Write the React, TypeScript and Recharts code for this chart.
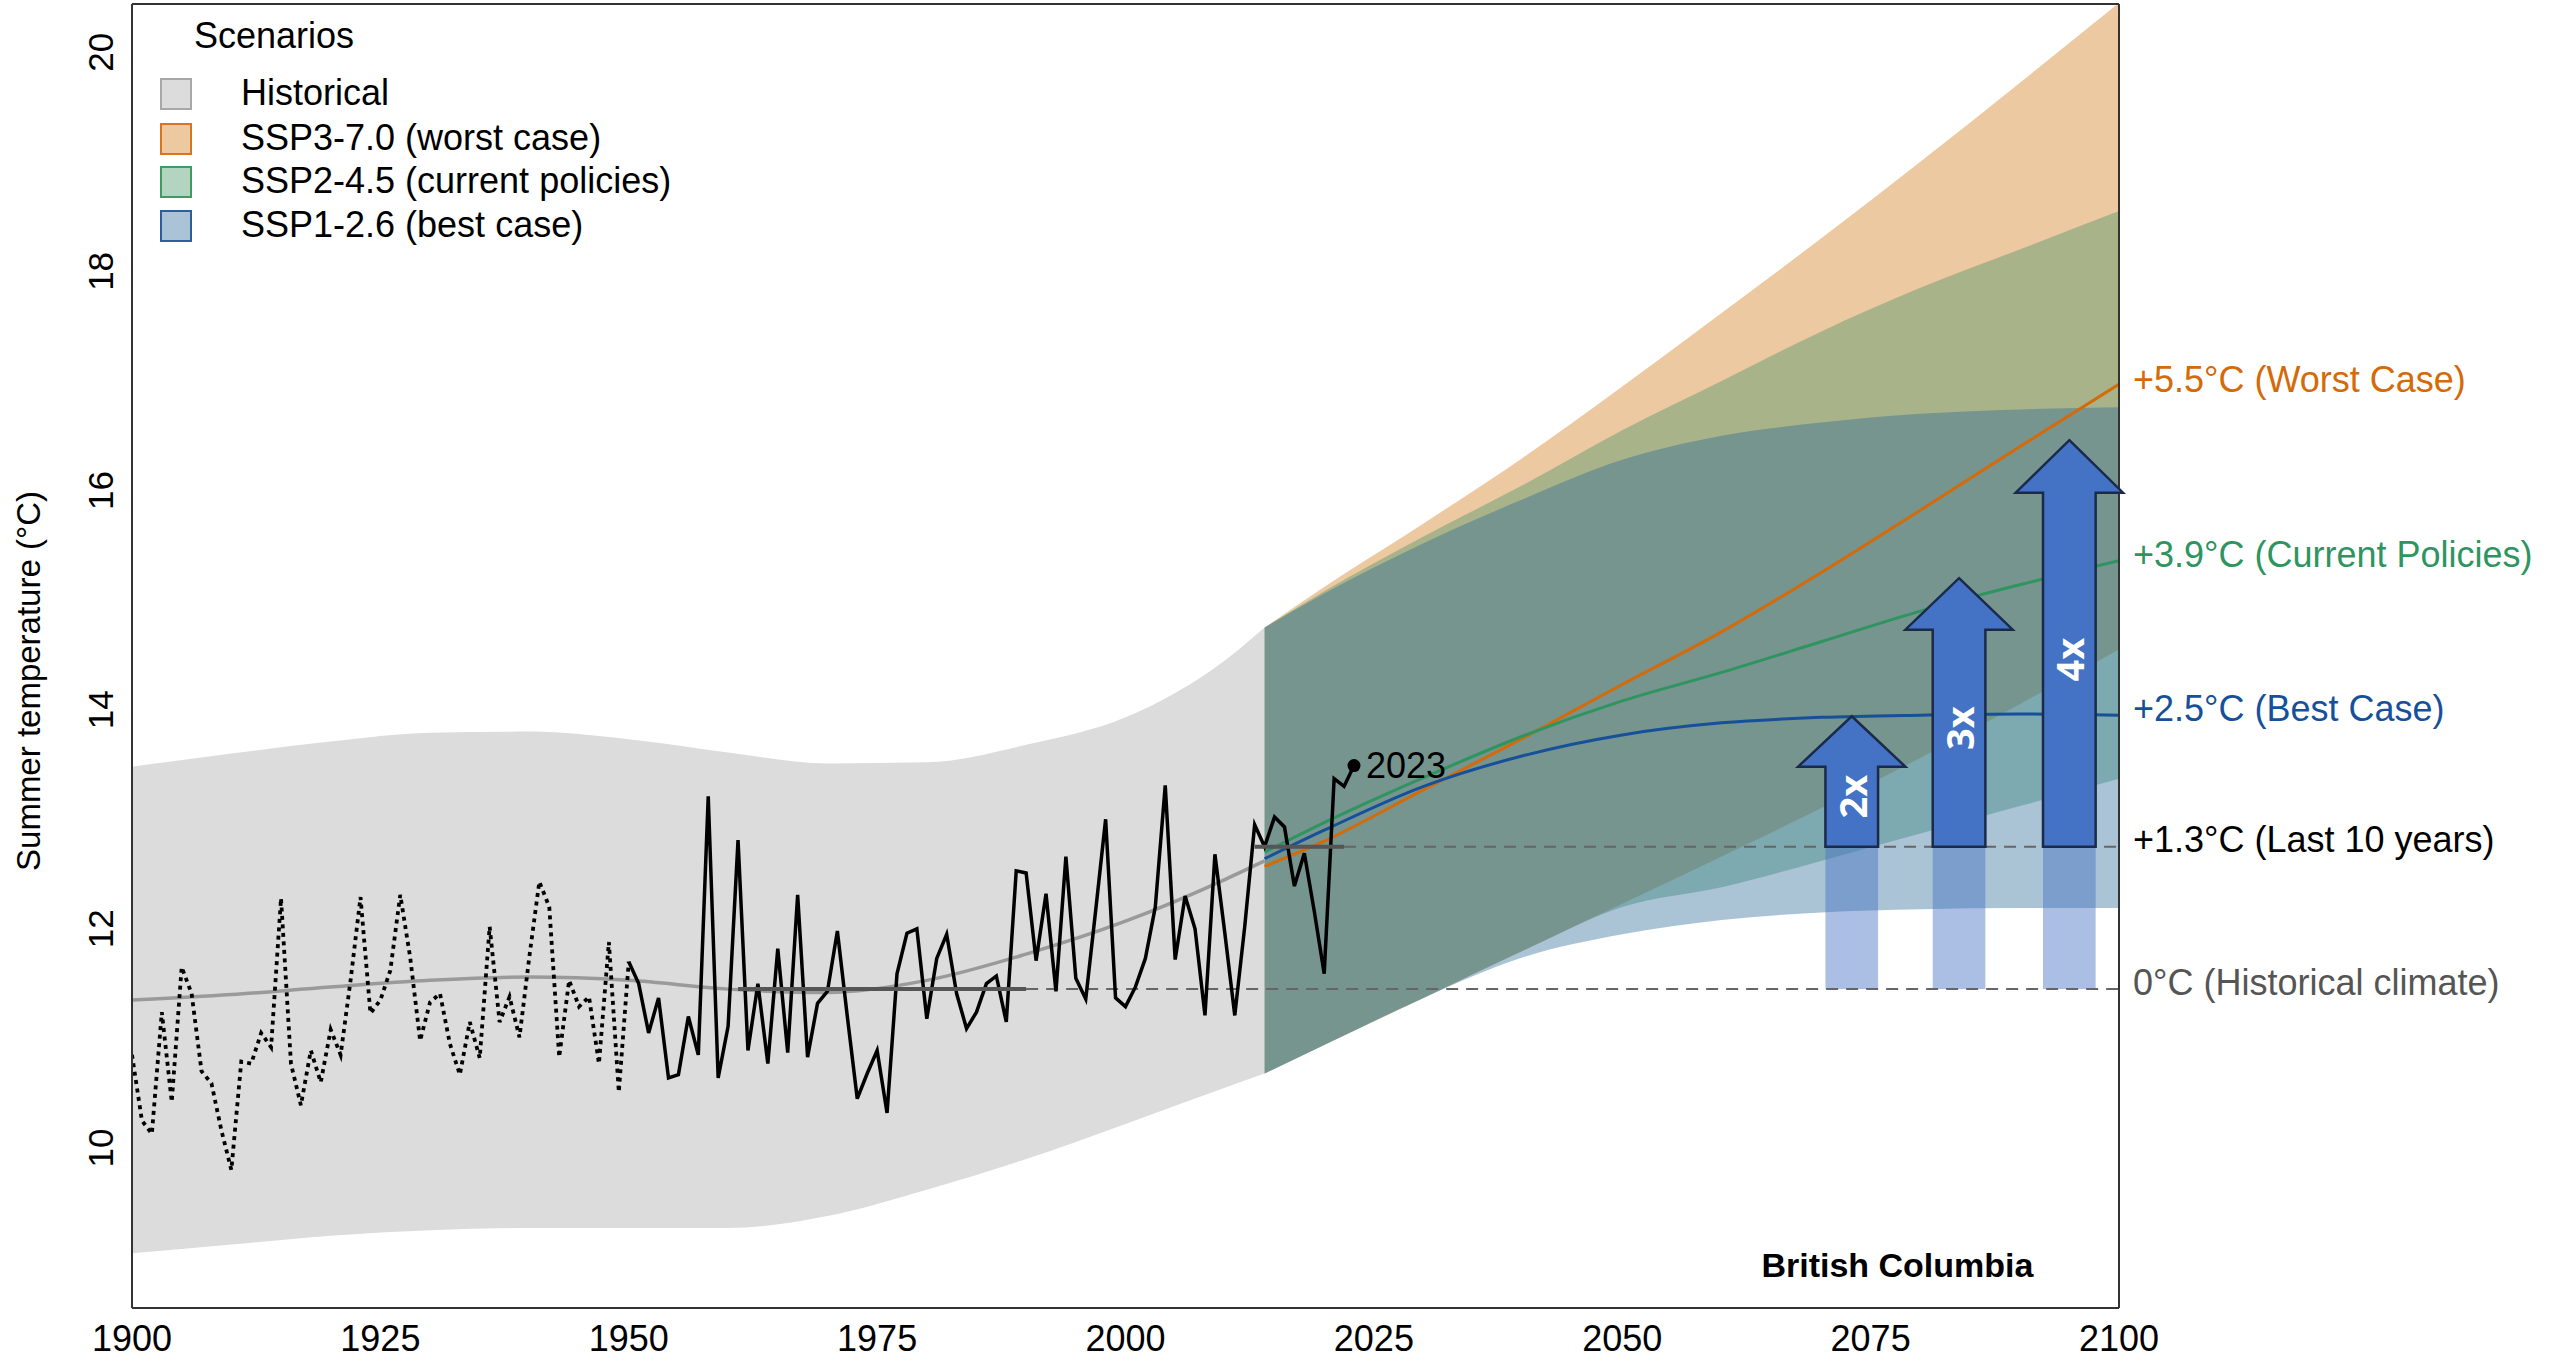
import React from 'react';
import {
  ComposedChart,
  Area,
  Line,
  XAxis,
  YAxis,
  ReferenceLine,
  ReferenceArea,
  ReferenceDot,
} from 'recharts';

const FONT = "'Liberation Sans', Arial, Helvetica, sans-serif";

// ---------- observed summer temperature (°C) ----------
const obsDottedStart = 1900;
const obsDotted = [
  10.85, 10.25, 10.13, 11.24, 10.42, 11.65, 11.41, 10.7, 10.59, 10.16,
  9.8, 10.79, 10.77, 11.05, 10.92, 12.28, 10.77, 10.39, 10.89, 10.6,
  11.08, 10.85, 11.53, 12.29, 11.23, 11.35, 11.62, 12.31, 11.74, 10.98,
  11.33, 11.41, 10.95, 10.67, 11.15, 10.82, 12.02, 11.15, 11.38, 11.01,
  11.75, 12.43, 12.2, 10.83, 11.53, 11.29, 11.38, 10.77, 11.88, 10.51,
  11.7,
];
const obsSolidStart = 1950;
const obsSolid = [
  11.7, 11.5, 11.05, 11.37, 10.64, 10.67, 11.2, 10.85, 13.21, 10.64,
  11.11, 12.81, 10.89, 11.5, 10.77, 11.82, 10.87, 12.31, 10.83, 11.32,
  11.43, 11.98, 11.2, 10.45, 10.68, 10.89, 10.32, 11.59, 11.96, 12.0,
  11.18, 11.73, 11.95, 11.41, 11.09, 11.24, 11.5, 11.57, 11.15, 12.53,
  12.51, 11.71, 12.32, 11.43, 12.66, 11.55, 11.36, 12.17, 13.0, 11.37,
  11.29, 11.47, 11.73, 12.2, 13.31, 11.72, 12.3, 12.0, 11.21, 12.68,
  11.96, 11.21, 12.02, 12.95, 12.75, 13.02, 12.93, 12.39, 12.69, 12.16,
  11.59, 13.37, 13.3, 13.49,
];

// ---------- historical model ensemble ----------
const histYears = [1900, 1910, 1920, 1930, 1940, 1950, 1960, 1970, 1980, 1990, 2000, 2010, 2014];
const histUpper = [13.48, 13.6, 13.71, 13.79, 13.8, 13.73, 13.61, 13.51, 13.52, 13.68, 13.93, 14.45, 14.75];
const histLower = [9.04, 9.12, 9.2, 9.25, 9.27, 9.27, 9.27, 9.38, 9.62, 9.9, 10.22, 10.55, 10.68];
const histMean = [11.35, 11.4, 11.47, 11.53, 11.56, 11.53, 11.45, 11.42, 11.53, 11.77, 12.07, 12.45, 12.62];

// ---------- projections ----------
const projYears = [2014, 2020, 2030, 2040, 2050, 2060, 2070, 2080, 2090, 2100];
const ssp370Mid = [12.57, 12.8, 13.27, 13.74, 14.23, 14.71, 15.25, 15.82, 16.4, 16.97];
const ssp370Upper = [14.75, 15.12, 15.7, 16.3, 16.95, 17.62, 18.3, 19.0, 19.72, 20.45];
const ssp370Lower = [10.68, 10.94, 11.37, 11.8, 12.23, 12.66, 13.1, 13.56, 14.05, 14.55];
const ssp245Mid = [12.7, 12.97, 13.38, 13.76, 14.08, 14.34, 14.62, 14.9, 15.14, 15.36];
const ssp245Upper = [14.75, 15.08, 15.58, 16.05, 16.55, 17.0, 17.45, 17.85, 18.2, 18.55];
const ssp245Lower = [10.68, 10.94, 11.37, 11.8, 12.2, 12.38, 12.62, 12.87, 13.12, 13.37];
const ssp126Mid = [12.64, 12.9, 13.3, 13.58, 13.77, 13.88, 13.93, 13.95, 13.96, 13.95];
const ssp126Upper = [14.75, 15.06, 15.52, 15.92, 16.28, 16.5, 16.62, 16.7, 16.74, 16.76];
const ssp126Lower = [10.68, 10.94, 11.37, 11.74, 11.95, 12.08, 12.15, 12.18, 12.19, 12.19];

// ---------- reference levels ----------
const baselineValue = 11.45;
const baselinePeriod = [1961, 1990];
const recentValue = 12.75;
const recentPeriod = [2013, 2022];
const refLabels = [
  '+5.5°C (Worst Case)',
  '+3.9°C (Current Policies)',
  '+2.5°C (Best Case)',
  '+1.3°C (Last 10 years)',
  '0°C (Historical climate)',
];
const refLabelValues = [16.95, 15.35, 13.95, 12.75, 11.45];
const refLabelColors = ['#D46A08', '#2E9460', '#17509A', '#000000', '#555555'];

// ---------- likelihood arrows ----------
const arrowLabels = ['2x', '3x', '4x'];
const arrowCenter = [2073.1, 2083.9, 2095.0];
const arrowShaftHalf = 2.65;
const arrowHeadHalf = 5.4;
const arrowBase = 12.75;
const arrowHeadBase = [13.48, 14.73, 15.98];
const arrowTip = [13.94, 15.2, 16.46];

// ---------- axes ----------
const xTicks = [1900, 1925, 1950, 1975, 2000, 2025, 2050, 2075, 2100];
const yTicks = [10, 12, 14, 16, 18, 20];
const xDomain = [1900, 2100];
const yDomain = [8.54, 20.44];

// ---------- legend ----------
const legendTitle = 'Scenarios';
const legendNames = ['Historical', 'SSP3-7.0 (worst case)', 'SSP2-4.5 (current policies)', 'SSP1-2.6 (best case)'];

const ORANGE = '#D27816';
const GREEN = '#439466';
const BLUE = '#2A6896';
const BAND_OP = 0.4;
const legendFill = ['#DCDCDC', 'rgba(210,120,22,0.4)', 'rgba(67,148,102,0.4)', 'rgba(42,104,156,0.4)'];
const legendStroke = ['#A8A8A8', '#D7761C', '#3F9A66', '#2A5E9E'];

// ---------- build table ----------
const NULL_RANGE = [null, null];
const yearSet = new Set<number>();
for (let y = 1900; y <= 2023; y++) yearSet.add(y);
projYears.forEach((y) => yearSet.add(y));
const years = Array.from(yearSet).sort((a, b) => a - b);

const table = years.map((year) => {
  const row: any = { year };
  const di = year - obsDottedStart;
  if (di >= 0 && di < obsDotted.length) row.obsDotted = obsDotted[di];
  const si = year - obsSolidStart;
  if (si >= 0 && si < obsSolid.length) row.obsSolid = obsSolid[si];
  const hi = histYears.indexOf(year);
  row.histBand = hi >= 0 ? [histLower[hi], histUpper[hi]] : NULL_RANGE;
  if (hi >= 0) row.histMean = histMean[hi];
  const pi = projYears.indexOf(year);
  row.band370 = pi >= 0 ? [ssp370Lower[pi], ssp370Upper[pi]] : NULL_RANGE;
  row.band245 = pi >= 0 ? [ssp245Lower[pi], ssp245Upper[pi]] : NULL_RANGE;
  row.band126 = pi >= 0 ? [ssp126Lower[pi], ssp126Upper[pi]] : NULL_RANGE;
  if (pi >= 0) {
    row.mid370 = ssp370Mid[pi];
    row.mid245 = ssp245Mid[pi];
    row.mid126 = ssp126Mid[pi];
  }
  return row;
});

const lastYear = obsSolidStart + obsSolid.length - 1;
const lastValue = obsSolid[obsSolid.length - 1];

const YTick = (p: any) => (
  <text
    x={p.x}
    y={p.y}
    transform={`rotate(-90, ${p.x}, ${p.y})`}
    textAnchor="middle"
    fontSize={35}
    fill="#000"
    fontFamily={FONT}
  >
    {p.payload.value}
  </text>
);

const YTitle = (p: any) => {
  const vb = p.viewBox || { x: 0, y: 4, width: 132, height: 1304 };
  const cx = vb.x + 28;
  const cy = vb.y + vb.height / 2 + 25;
  return (
    <text
      x={cx}
      y={cy}
      transform={`rotate(-90, ${cx}, ${cy})`}
      textAnchor="middle"
      dominantBaseline="central"
      fontSize={33}
      fill="#000"
      fontFamily={FONT}
    >
      Summer temperature (°C)
    </text>
  );
};

const makeArrowShape = (i: number) => (p: any) => {
  const { x, y, width, height } = p;
  if (![x, y, width, height].every((v) => Number.isFinite(v))) return <g />;
  const cx = x + width / 2;
  const sw = (width * (arrowShaftHalf / arrowHeadHalf)) / 2;
  const hh = (height * (arrowTip[i] - arrowHeadBase[i])) / (arrowTip[i] - arrowBase);
  const pts = [
    [cx, y],
    [x + width, y + hh],
    [cx + sw, y + hh],
    [cx + sw, y + height],
    [cx - sw, y + height],
    [cx - sw, y + hh],
    [x, y + hh],
  ]
    .map((q) => q.join(','))
    .join(' ');
  const ly = y + hh + (height - hh) / 2 - 10;
  return (
    <g>
      <polygon points={pts} fill="#4472C4" stroke="#1B2A4A" strokeWidth={2.5} />
      <text
        x={cx}
        y={ly}
        transform={`rotate(-90, ${cx}, ${ly})`}
        textAnchor="middle"
        dominantBaseline="central"
        fill="#fff"
        fontWeight={700}
        fontSize={38}
        fontFamily="'Open Sans', 'Liberation Sans', sans-serif"
      >
        {arrowLabels[i]}
      </text>
    </g>
  );
};

const Legend = () => (
  <div style={{ position: 'absolute', left: 0, top: 0, fontFamily: FONT, color: '#000', pointerEvents: 'none' }}>
    <div style={{ position: 'absolute', left: 194, top: 36 - 17.6, fontSize: 36, lineHeight: '36px', whiteSpace: 'nowrap' }}>
      {legendTitle}
    </div>
    {legendNames.map((name, i) => {
      const cy = [92.5, 137.5, 181, 224.5][i];
      return (
        <React.Fragment key={name}>
          <div
            style={{
              position: 'absolute',
              left: 160,
              top: cy - 15,
              width: 28,
              height: 28,
              background: legendFill[i],
              border: `2px solid ${legendStroke[i]}`,
            }}
          />
          <div
            style={{
              position: 'absolute',
              left: 241,
              top: cy - 17.6,
              fontSize: 36,
              lineHeight: '36px',
              whiteSpace: 'nowrap',
            }}
          >
            {name}
          </div>
        </React.Fragment>
      );
    })}
  </div>
);

export default function App() {
  return (
    <div style={{ position: 'absolute', left: 0, top: 0, width: 2560, height: 1361, fontFamily: FONT, background: '#fff' }}>
      <ComposedChart width={2560} height={1361} data={table} margin={{ top: 0, right: 0, bottom: 0, left: 0 }}>
        <XAxis
          dataKey="year"
          type="number"
          domain={xDomain}
          ticks={xTicks}
          allowDataOverflow
          height={53}
          tickSize={0}
          tickMargin={17}
          tickLine={false}
          axisLine={{ stroke: '#333', strokeWidth: 2 }}
          tick={{ fontSize: 36, fill: '#000', fontFamily: FONT }}
        />
        <XAxis
          xAxisId="top"
          orientation="top"
          type="number"
          domain={xDomain}
          height={4}
          tick={false}
          tickLine={false}
          axisLine={{ stroke: '#333', strokeWidth: 2 }}
        />
        <YAxis
          type="number"
          domain={yDomain}
          ticks={yTicks}
          allowDataOverflow
          width={132}
          tickSize={0}
          tickMargin={19}
          tickLine={false}
          axisLine={{ stroke: '#333', strokeWidth: 2 }}
          tick={YTick}
          label={{ content: YTitle }}
        />
        <YAxis
          yAxisId="right"
          orientation="right"
          type="number"
          domain={[0, 1]}
          width={441}
          tick={false}
          tickLine={false}
          axisLine={{ stroke: '#333', strokeWidth: 2 }}
        />

        <Area
          dataKey="histBand"
          type="monotone"
          connectNulls
          stroke="none"
          fill="#DCDCDC"
          fillOpacity={1}
          isAnimationActive={false}
          activeDot={false}
        />
        <Area
          dataKey="band370"
          type="monotone"
          connectNulls
          stroke="none"
          fill={ORANGE}
          fillOpacity={BAND_OP}
          isAnimationActive={false}
          activeDot={false}
        />
        <Area
          dataKey="band245"
          type="monotone"
          connectNulls
          stroke="none"
          fill={GREEN}
          fillOpacity={BAND_OP}
          isAnimationActive={false}
          activeDot={false}
        />
        <Area
          dataKey="band126"
          type="monotone"
          connectNulls
          stroke="none"
          fill={BLUE}
          fillOpacity={BAND_OP}
          isAnimationActive={false}
          activeDot={false}
        />

        {arrowCenter.map((c, i) => (
          <ReferenceArea
            key={`bar${i}`}
            x1={c - arrowShaftHalf}
            x2={c + arrowShaftHalf}
            y1={baselineValue}
            y2={recentValue}
            fill="#4472C4"
            fillOpacity={0.45}
            stroke="none"
            ifOverflow="visible"
          />
        ))}

        <ReferenceLine
          segment={[{ x: baselinePeriod[1], y: baselineValue }, { x: xDomain[1], y: baselineValue }]}
          stroke="#666"
          strokeWidth={2}
          strokeDasharray="12 8"
        />
        <ReferenceLine
          segment={[{ x: recentPeriod[1], y: recentValue }, { x: xDomain[1], y: recentValue }]}
          stroke="#666"
          strokeWidth={2}
          strokeDasharray="12 8"
        />

        <Line
          dataKey="histMean"
          type="monotone"
          connectNulls
          stroke="#9A9A9A"
          strokeWidth={3.5}
          dot={false}
          activeDot={false}
          isAnimationActive={false}
        />
        <Line dataKey="mid370" type="monotone" connectNulls stroke="#D46A08" strokeWidth={3} dot={false} activeDot={false} isAnimationActive={false} />
        <Line dataKey="mid245" type="monotone" connectNulls stroke="#2E9460" strokeWidth={3} dot={false} activeDot={false} isAnimationActive={false} />
        <Line dataKey="mid126" type="monotone" connectNulls stroke="#17509A" strokeWidth={3} dot={false} activeDot={false} isAnimationActive={false} />

        <Line
          dataKey="obsDotted"
          type="linear"
          stroke="#000"
          strokeWidth={3.8}
          strokeDasharray="4 4.5"
          dot={false}
          activeDot={false}
          isAnimationActive={false}
        />
        <Line
          dataKey="obsSolid"
          type="linear"
          stroke="#000"
          strokeWidth={3.5}
          strokeLinejoin="miter"
          dot={false}
          activeDot={false}
          isAnimationActive={false}
        />

        <ReferenceLine
          segment={[{ x: baselinePeriod[0], y: baselineValue }, { x: baselinePeriod[1], y: baselineValue }]}
          stroke="#555"
          strokeWidth={4}
          zIndex={1450}
        />
        <ReferenceLine
          segment={[{ x: recentPeriod[0], y: recentValue }, { x: recentPeriod[1], y: recentValue }]}
          stroke="#555"
          strokeWidth={4}
          zIndex={1450}
        />

        {arrowCenter.map((c, i) => (
          <ReferenceArea
            key={`arrow${i}`}
            x1={c - arrowHeadHalf}
            x2={c + arrowHeadHalf}
            y1={arrowBase}
            y2={arrowTip[i]}
            ifOverflow="visible"
            zIndex={1500}
            shape={makeArrowShape(i)}
          />
        ))}

        <ReferenceDot
          x={lastYear}
          y={lastValue}
          r={6.5}
          ifOverflow="visible"
          zIndex={1500}
          shape={(p: any) => (
            <g>
              <circle cx={p.cx} cy={p.cy} r={6.5} fill="#000" />
              <text x={p.cx + 12} y={p.cy} dominantBaseline="central" fontSize={36} fill="#000" fontFamily={FONT}>
                {lastYear}
              </text>
            </g>
          )}
        />

        {refLabelValues.map((v, i) => (
          <ReferenceDot
            key={`lab${i}`}
            x={xDomain[1]}
            y={v}
            r={1}
            ifOverflow="visible"
            zIndex={1500}
            shape={(p: any) => (
              <text
                x={p.cx + 14}
                y={p.cy - 7}
                dominantBaseline="central"
                fontSize={36}
                fill={refLabelColors[i]}
                fontFamily={FONT}
              >
                {refLabels[i]}
              </text>
            )}
          />
        ))}

        <ReferenceDot
          x={2077.7}
          y={8.93}
          r={1}
          ifOverflow="visible"
          zIndex={1500}
          shape={(p: any) => (
            <text
              x={p.cx}
              y={p.cy}
              textAnchor="middle"
              dominantBaseline="central"
              fontSize={34}
              fontWeight={700}
              fill="#000"
              fontFamily={FONT}
            >
              British Columbia
            </text>
          )}
        />
      </ComposedChart>
      <Legend />
    </div>
  );
}
